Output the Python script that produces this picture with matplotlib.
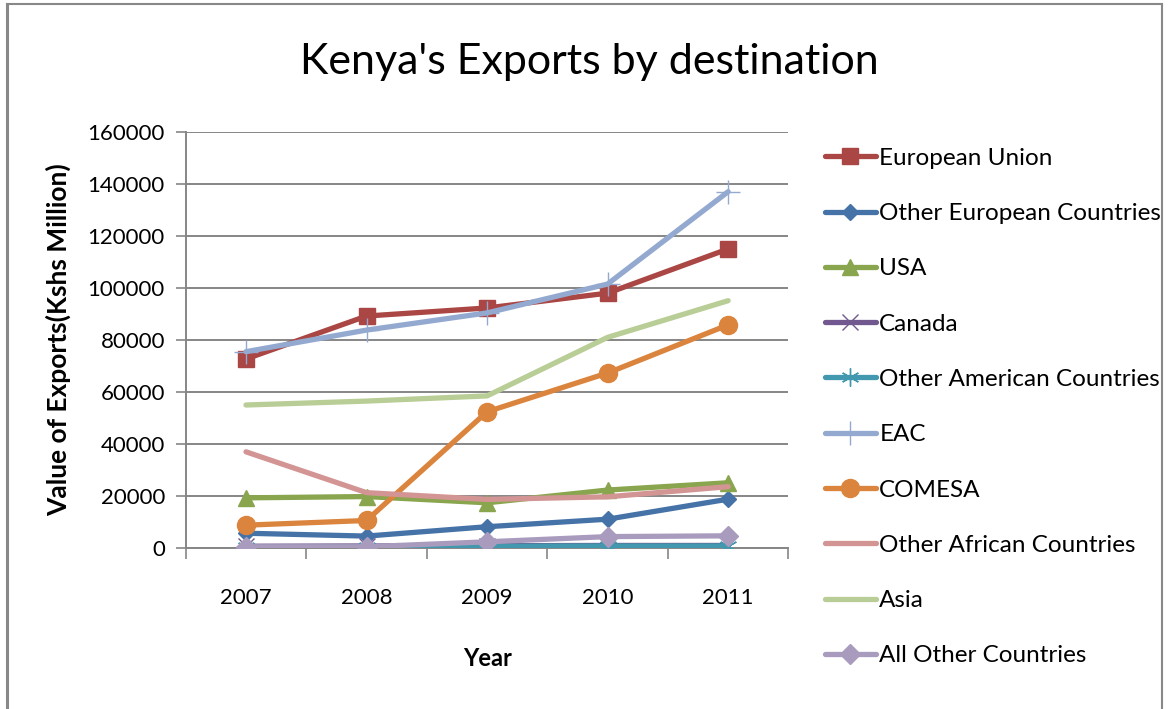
import matplotlib
matplotlib.use('Agg')
import matplotlib.pyplot as plt
from matplotlib.lines import Line2D
import numpy as np

plt.rcParams['font.family'] = ['Lato', 'DejaVu Sans']

years = ['2007', '2008', '2009', '2010', '2011']

european_union = [72700, 89200, 92300, 98000, 115000]
other_european = [5700, 4600, 8200, 11100, 18800]
usa = [19300, 19800, 17400, 22300, 25100]
canada = [700, 800, 900, 1000, 1000]
other_american = [300, 400, 700, 800, 800]
eac = [75500, 83800, 90400, 101500, 137000]
comesa = [8800, 10600, 52400, 67300, 85800]
other_african = [37000, 21300, 18700, 19700, 23600]
asia = [55000, 56500, 58500, 81000, 95100]
all_other = [500, 500, 2400, 4400, 4700]

series = [
    ('European Union', european_union, '#AA4643', 's', 12),
    ('Other European Countries', other_european, '#4572A7', 'D', 8),
    ('USA', usa, '#89A54E', '^', 12),
    ('Canada', canada, '#71588F', 'x', 11),
    ('Other American Countries', other_american, '#4198AF', (6, 2, 0), 13),
    ('EAC', eac, '#93A9CF', '+', 17),
    ('COMESA', comesa, '#DB843D', 'o', 13),
    ('Other African Countries', other_african, '#D39594', None, 0),
    ('Asia', asia, '#B9CD96', None, 0),
    ('All Other Countries', all_other, '#A99BBD', 'D', 10),
]

fig = plt.figure(figsize=(11.68, 7.09), dpi=100)
ax = fig.add_axes([0.159, 0.227, 0.516, 0.587])

x = np.arange(len(years))
handles = []
for name, vals, col, mk, ms in series:
    line, = ax.plot(x, vals, color=col, lw=3.8, marker=mk, markersize=ms,
                    markeredgewidth=1.0, markerfacecolor=col, markeredgecolor=col,
                    solid_capstyle='round', label=name, zorder=3)
    handles.append(line)

ax.set_xlim(-0.5, len(years) - 0.5)
ax.set_ylim(0, 160000)
ax.set_yticks(np.arange(0, 160001, 20000))
ax.set_xticks(x)
ax.set_xticklabels(years)
ax.set_xticks(np.arange(-0.5, len(years), 1), minor=True)
ax.tick_params(axis='x', which='major', length=0, pad=29, labelsize=16)
ax.tick_params(axis='x', which='minor', length=8, width=1.2, color='#868686', direction='out')
ax.tick_params(axis='y', length=7, width=1.2, color='#868686', pad=8, labelsize=16)

ax.grid(axis='y', color='#868686', lw=1.4)
ax.set_axisbelow(True)
for s in ['top', 'right']:
    ax.spines[s].set_visible(False)
ax.spines['bottom'].set_color('#868686')
ax.spines['left'].set_color('#868686')
ax.spines['left'].set_linewidth(1.4)
ax.spines['bottom'].set_linewidth(1.4)

ax.set_ylabel('Value of Exports(Kshs Million)', fontsize=19, fontweight='bold', labelpad=12)
ax.set_xlabel('Year', fontsize=17, fontweight='bold', labelpad=28)

fig.text(0.505, 0.912, "Kenya's Exports by destination", ha='center', va='center', fontsize=31)

ax.legend(handles=handles, loc='upper left', bbox_to_anchor=(1.044, 0.985), frameon=False,
          fontsize=17.5, handlelength=2.1, handletextpad=0.15, labelspacing=1.41,
          borderaxespad=0)

# outer frame
fig.add_artist(Line2D([0.006, 0.006], [0, 0.995], transform=fig.transFigure, color='#888888', lw=2.2))
fig.add_artist(Line2D([0.006, 0.995], [0.995, 0.995], transform=fig.transFigure, color='#888888', lw=1.5))
fig.add_artist(Line2D([0.995, 0.995], [0, 0.995], transform=fig.transFigure, color='#888888', lw=1.5))

fig.savefig('out.png', dpi=100)
